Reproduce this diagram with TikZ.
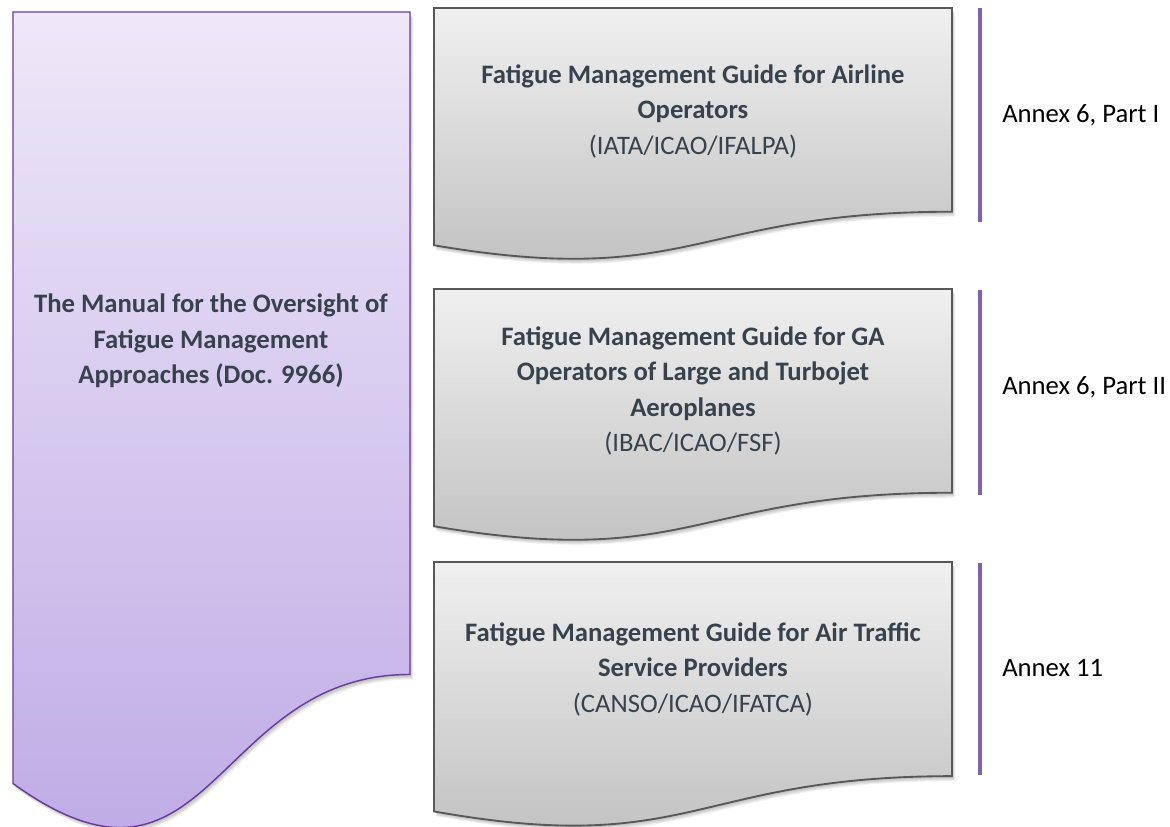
\documentclass[tikz,border=0pt]{standalone}
\usepackage{fontspec}
\setmainfont{Carlito}
\definecolor{slatetext}{RGB}{55,66,77}
\definecolor{purpletop}{RGB}{238,232,248}
\definecolor{purplebot}{RGB}{186,165,228}
\definecolor{purpleedge}{RGB}{108,58,160}
\definecolor{graytop}{RGB}{240,240,240}
\definecolor{graybot}{RGB}{190,190,190}
\definecolor{grayedge}{RGB}{88,88,88}
\definecolor{barcolor}{RGB}{128,96,178}
\tikzset{
  docshape/.style n args={4}{insert path={
    (#1,#2) -- ({#1+#3},#2) -- ({#1+#3},{#2+0.802*#4})
    .. controls ({#1+0.5*#3},{#2+0.802*#4}) and ({#1+0.5*#3},{#2+1.1075*#4}) .. (#1,{#2+0.934*#4}) -- cycle}},
  shadowA/.style={fill=black, draw=none, opacity=0.06},
  graydoc/.style={draw=grayedge, line width=1.4pt, top color=graytop, bottom color=graybot},
  purpledoc/.style={draw=purpleedge, line width=1.1pt, top color=purpletop, bottom color=purplebot},
  boxtext/.style={align=center, text=slatetext, font=\fontsize{20}{26.6}\selectfont, inner sep=0pt},
  annextext/.style={anchor=west, text=black, font=\fontsize{20}{24}\selectfont, inner sep=0pt},
  bar/.style={draw=barcolor, line width=3pt}
}
\begin{document}
\begin{tikzpicture}[x=0.75pt,y=-0.75pt]
\useasboundingbox (0,0) rectangle (1170,826);
% shadows
\foreach \dx/\dy in {1/2,2/3,2/4,3/5}{
  \path[shadowA, shift={(\dx,\dy)}, docshape={13}{12}{397}{826}];
  \path[shadowA, shift={(\dx,\dy)}, docshape={434}{8}{518}{254}];
  \path[shadowA, shift={(\dx,\dy)}, docshape={434}{289}{518}{254}];
  \path[shadowA, shift={(\dx,\dy)}, docshape={434}{562}{518}{267}];
}
% shapes
\path[purpledoc, docshape={13}{12}{397}{826}];
\path[graydoc, docshape={434}{8}{518}{254}];
\path[graydoc, docshape={434}{289}{518}{254}];
\path[graydoc, docshape={434}{562}{518}{267}];
% texts
\node[boxtext] (manual) at (211,341) {\bfseries The Manual for the Oversight of\\\bfseries Fatigue Management\\\bfseries Approaches (Doc. 9966)};
\node[boxtext] (guide1) at (693,111) {\bfseries Fatigue Management Guide for Airline\\\bfseries Operators\\(IATA/ICAO/IFALPA)};
\node[boxtext] (guide2) at (693,391) {\bfseries Fatigue Management Guide for GA\\\bfseries Operators of Large and Turbojet\\\bfseries Aeroplanes\\(IBAC/ICAO/FSF)};
\node[boxtext] (guide3) at (693,669) {\bfseries Fatigue Management Guide for Air Traffic\\\bfseries Service Providers\\(CANSO/ICAO/IFATCA)};
% bars
\coordinate (b1t) at (980,8);   \coordinate (b1b) at (980,222);
\coordinate (b2t) at (980,290); \coordinate (b2b) at (980,495);
\coordinate (b3t) at (980,563); \coordinate (b3b) at (980,775);
\draw[bar] (b1t) -- (b1b);
\draw[bar] (b2t) -- (b2b);
\draw[bar] (b3t) -- (b3b);
\node[annextext] (annex1) at (1002,115) {Annex 6, Part I};
\node[annextext] (annex2) at (1002,387) {Annex 6, Part II};
\node[annextext] (annex3) at (1002,668) {Annex 11};
\end{tikzpicture}
\end{document}
